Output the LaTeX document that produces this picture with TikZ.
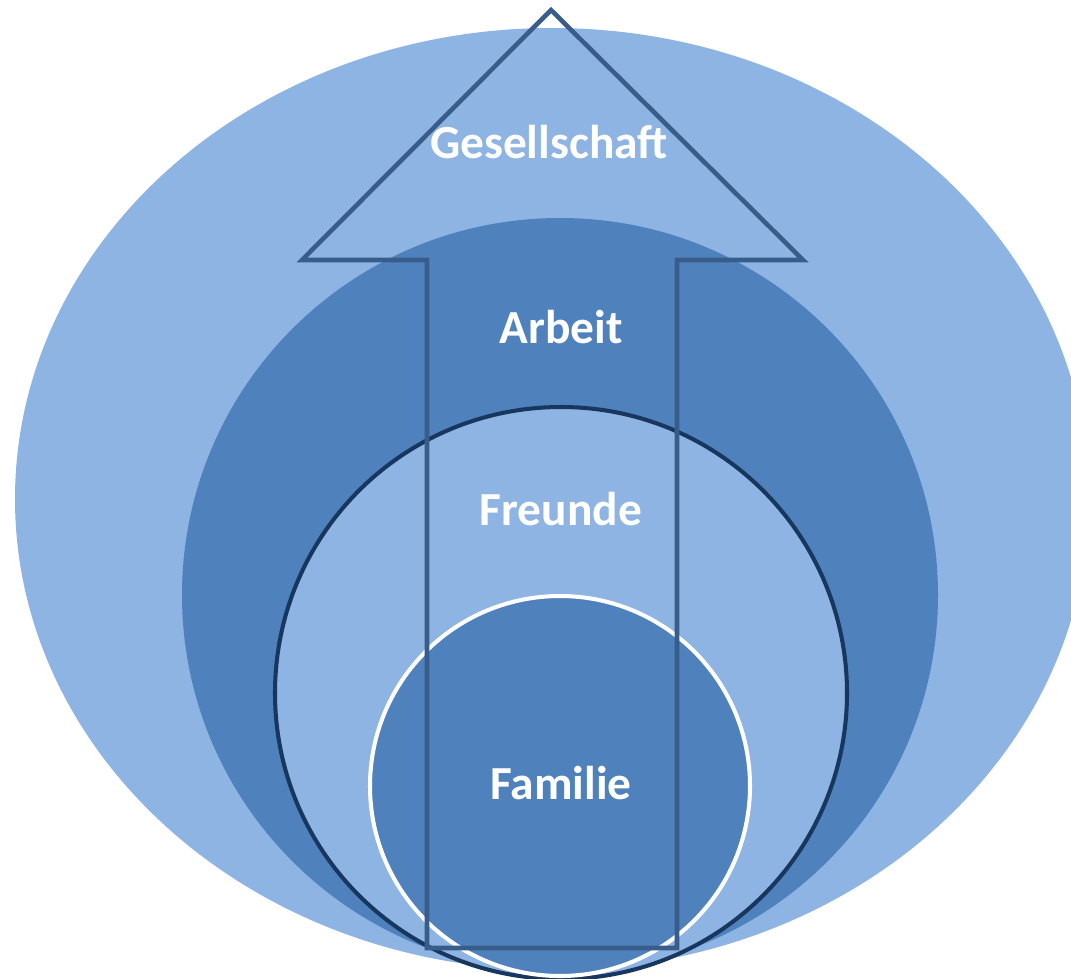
\documentclass[tikz,border=0pt]{standalone}
\usepackage{fontspec}
\setmainfont{Carlito}
\usepackage{tikz}
\usetikzlibrary{positioning}

\definecolor{hellblau}{HTML}{8EB4E3}
\definecolor{mittelblau}{HTML}{4F81BD}
\definecolor{pfeilblau}{HTML}{385D8A}
\definecolor{dunkelblau}{HTML}{17375E}

\tikzset{
	schrift/.style={text=white, font=\fontsize{27}{33}\selectfont\bfseries},
}

\begin{document}
\begin{tikzpicture}[x=0.02cm, y=-0.02cm]
	\useasboundingbox (0,0) rectangle (1071,978);
	\clip (0,0) rectangle (1071,978);
	\fill[hellblau] (552,499) ellipse [x radius=537, y radius=471];
	\fill[mittelblau] (560,595) ellipse [x radius=378, y radius=377];
	\draw[dunkelblau, line width=2.3pt, fill=hellblau] (561,693) circle [radius=286];
	\draw[white, line width=2.3pt, fill=mittelblau] (560,786) circle [radius=190];
	\coordinate (spitze) at (551,10);
	\draw[pfeilblau, line width=2.6pt] (spitze)--(803,260)--(677,260)--(677,948)--(427,948)--(427,260)--(302,260)--cycle;
	\node[schrift] (gesellschaft) at (549,142) {Gesellschaft};
	\node[schrift] (arbeit) at (561,327) {Arbeit};
	\node[schrift] (freunde) at (561,509) {Freunde};
	\node[schrift] (familie) at (561,783) {Familie};
\end{tikzpicture}
\end{document}
